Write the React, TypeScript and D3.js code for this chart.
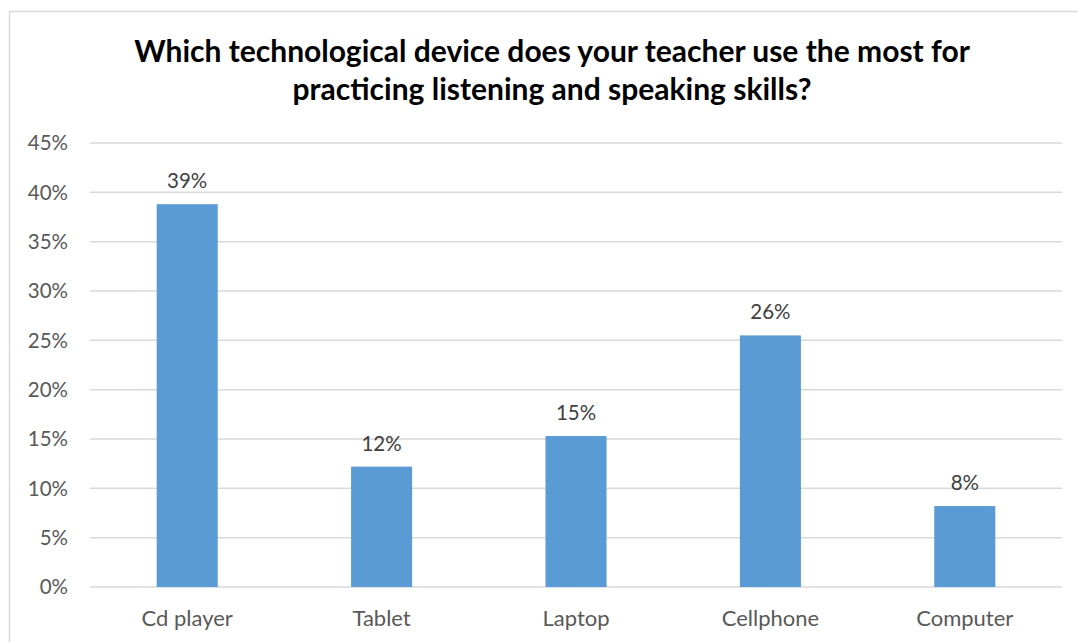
import React from "react";
import * as d3 from "d3";

const categories = ["Cd player", "Tablet", "Laptop", "Cellphone", "Computer"];
const values = [38.8, 12.2, 15.3, 25.5, 8.2];
const valueLabels = ["39%", "12%", "15%", "26%", "8%"];
const yTicks = [0, 5, 10, 15, 20, 25, 30, 35, 40, 45];
const titleLines = [
  "Which technological device does your teacher use the most for",
  "practicing listening and speaking skills?",
];

const W = 1078;
const H = 642;
const plot = { left: 90, right: 1062, top: 143, bottom: 587 };
const FONT = "Lato, 'Open Sans', sans-serif";

export default function App() {
  const x = d3.scaleBand<string>().domain(categories).range([plot.left, plot.right]).padding(0);
  const y = d3.scaleLinear().domain([0, 45]).range([plot.bottom, plot.top]);
  const barW = x.bandwidth() * 0.314;

  return (
    <svg
      width={W}
      height={H}
      style={{ position: "absolute", left: 0, top: 0, display: "block", background: "#fff" }}
    >
      <rect x={9.5} y={11.5} width={W + 10} height={H + 10} fill="#fff" stroke="#d9d9d9" strokeWidth={1.5} />
      {titleLines.map((t, i) => (
        <text
          key={i}
          x={552}
          y={62 + i * 38}
          textAnchor="middle"
          fontFamily={FONT}
          fontWeight="bold"
          fontSize={30}
          fill="#000"
        >
          {t}
        </text>
      ))}
      {yTicks.map((t) => (
        <g key={t}>
          <line x1={plot.left} x2={plot.right} y1={y(t)} y2={y(t)} stroke="#d9d9d9" strokeWidth={1.5} />
          <text
            x={68}
            y={y(t)}
            dy="0.35em"
            textAnchor="end"
            fontFamily={FONT}
            fontSize={20.5}
            fill="#595959"
          >
            {t}%
          </text>
        </g>
      ))}
      {categories.map((c, i) => {
        const cx = (x(c) as number) + x.bandwidth() / 2;
        return (
          <g key={c}>
            <rect x={cx - barW / 2} y={y(values[i])} width={barW} height={y(0) - y(values[i])} fill="#5b9bd5" />
            <text x={cx} y={y(values[i]) - 16} textAnchor="middle" fontFamily={FONT} fontSize={20.5} fill="#404040">
              {valueLabels[i]}
            </text>
            <text x={cx} y={626} textAnchor="middle" fontFamily={FONT} fontSize={22} fill="#595959">
              {c}
            </text>
          </g>
        );
      })}
    </svg>
  );
}
